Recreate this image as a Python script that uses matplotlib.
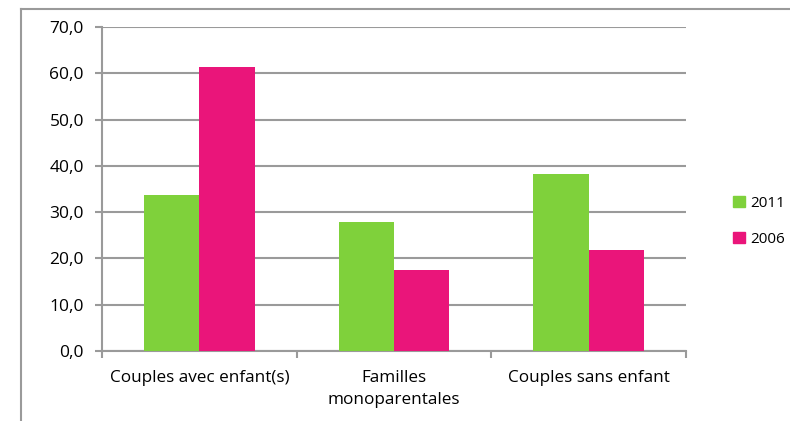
import matplotlib
matplotlib.use("Agg")
import matplotlib.pyplot as plt
from matplotlib.lines import Line2D
from matplotlib.patches import Patch
import numpy as np

categories = ["Couples avec enfant(s)", "Familles\nmonoparentales", "Couples sans enfant"]
series_names = ["2011", "2006"]
values_2011 = [33.7, 27.9, 38.2]
values_2006 = [61.3, 17.6, 21.9]
yticks = [0, 10, 20, 30, 40, 50, 60, 70]
ytick_labels = ["0,0", "10,0", "20,0", "30,0", "40,0", "50,0", "60,0", "70,0"]

green = "#7FD13B"
pink = "#EA157A"
grid_c = "#9A9A9A"

plt.rcParams['font.family'] = ['Open Sans', 'DejaVu Sans']

fig = plt.figure(figsize=(7.9, 4.21), dpi=100)
ax = fig.add_axes([102/790, 1-351/421, 584/790, 324/421])

x = np.arange(len(categories))
w = 0.285
ax.bar(x - w/2, values_2011, w, color=green, zorder=3, label=series_names[0])
ax.bar(x + w/2, values_2006, w, color=pink, zorder=3, label=series_names[1])

ax.set_xlim(-0.5, 2.5)
ax.set_ylim(0, 70)
ax.set_yticks(yticks)
ax.set_yticklabels(ytick_labels, fontsize=12.5)
ax.yaxis.grid(True, color=grid_c, linewidth=1.5, zorder=0)
ax.set_axisbelow(True)

ax.set_xticks(x)
ax.set_xticklabels(categories, fontsize=12.3, linespacing=1.45)
ax.tick_params(axis='x', length=0, pad=14)
ax.set_xticks([-0.5, 0.5, 1.5, 2.5], minor=True)
ax.tick_params(axis='x', which='minor', length=5, width=1.5, color=grid_c, direction='out')
ax.tick_params(axis='y', length=5, width=1.5, color=grid_c, direction='out', pad=8)

for s in ['top', 'right']:
    ax.spines[s].set_visible(False)
for s in ['left', 'bottom']:
    ax.spines[s].set_color(grid_c)
    ax.spines[s].set_linewidth(1.5)

handles = [Patch(color=green), Patch(color=pink)]
fig.legend(handles, series_names, loc='upper left', bbox_to_anchor=(719/790, 1-182/421),
           frameon=False, fontsize=11, handlelength=0.8, handleheight=0.8,
           handletextpad=0.35, labelspacing=1.35)

# chart frame
fig.add_artist(Line2D([21/790, 21/790], [0, 1-9/421], color=grid_c, linewidth=1.5, transform=fig.transFigure))
fig.add_artist(Line2D([21/790, 1], [1-9/421, 1-9/421], color=grid_c, linewidth=1.5, transform=fig.transFigure))

fig.savefig("out.png", dpi=100)
